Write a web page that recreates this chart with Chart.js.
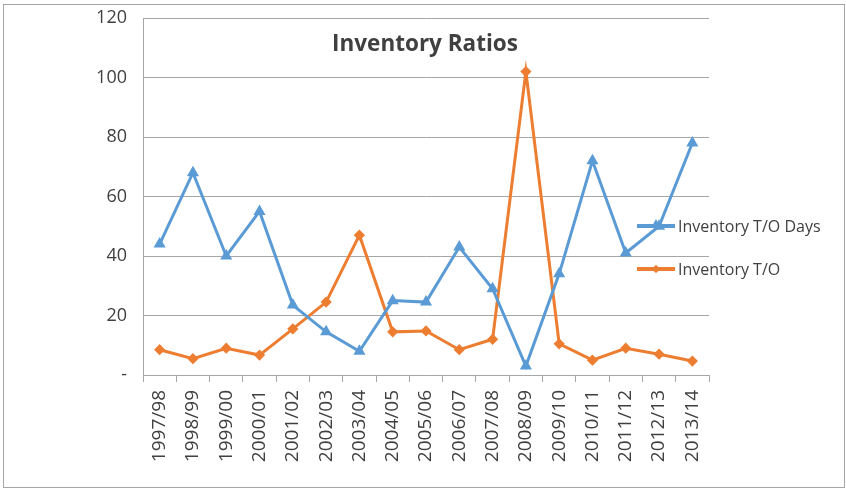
<!DOCTYPE html>
<html>
<head>
<meta charset="utf-8">
<script src="https://cdn.jsdelivr.net/npm/chart.js@4"></script>
<style>
  body { margin: 0; background: #fff; }
  #wrap { position: relative; width: 846px; height: 490px; }
  #frame { position: absolute; left: 3px; top: 4px; width: 840px; height: 482px; border: 1px solid #a6a6a6; pointer-events: none; }
  #title { position: absolute; left: 0; width: 850px; top: 27px; text-align: center;
           font: bold 22.5px "Open Sans", sans-serif; color: #404040; }
  .leg { position: absolute; left: 637px; height: 24px; font: 16px "Open Sans", sans-serif; color: #404040; white-space: nowrap; }
  .leg .ln { position: absolute; left: 0; top: 10px; width: 38px; height: 4px; }
  .leg .tx { position: absolute; left: 41px; top: 0; line-height: 24px; }
  .tri { position: absolute; left: 14px; top: 5px; width: 0; height: 0;
         border-left: 5px solid transparent; border-right: 5px solid transparent; border-bottom: 9px solid #5b9bd5; }
  .dia { position: absolute; left: 16px; top: 9px; width: 6px; height: 6px; background: #ed7d31; transform: rotate(45deg); }
</style>
</head>
<body>
<div id="wrap">
  <canvas id="inventoryChart" width="846" height="490"></canvas>
  <div id="title">Inventory Ratios</div>
  <div class="leg" style="top:214px"><div class="ln" style="background:#5b9bd5"></div><div class="tri"></div><div class="tx">Inventory T/O Days</div></div>
  <div class="leg" style="top:257px"><div class="ln" style="background:#ed7d31"></div><div class="dia"></div><div class="tx">Inventory T/O</div></div>
  <div id="frame"></div>
</div>
<script>
var years = ['1997/98', '1998/99', '1999/00', '2000/01', '2001/02', '2002/03', '2003/04', '2004/05', '2005/06',
             '2006/07', '2007/08', '2008/09', '2009/10', '2010/11', '2011/12', '2012/13', '2013/14'];
var toDays = [44, 68, 40, 55, 23.5, 14.5, 8, 25, 24.5, 43, 29, 3, 34, 72, 41, 50, 78];
var turnover = [8.5, 5.5, 9, 6.7, 15.5, 24.5, 47, 14.5, 14.8, 8.5, 12, 102, 10.5, 5, 9, 7, 4.7];
var yTicks = [0, 20, 40, 60, 80, 100, 120];

var ctx = document.getElementById('inventoryChart').getContext('2d');
var inventoryChart = new Chart(ctx, {
    type: 'line',
    data: {
        labels: years,
        datasets: [{
            label: 'Inventory T/O Days',
            data: toDays,
            borderColor: '#5b9bd5',
            backgroundColor: '#5b9bd5',
            borderWidth: 3,
            pointStyle: 'triangle',
            pointRadius: 4,
            tension: 0
        }, {
            label: 'Inventory T/O',
            data: turnover,
            borderColor: '#ed7d31',
            backgroundColor: '#ed7d31',
            borderWidth: 3,
            pointStyle: 'rectRot',
            pointRadius: 3.5,
            tension: 0
        }]
    },
    options: {
        responsive: false,
        animation: false,
        layout: { padding: { left: 0, top: 18, right: 137, bottom: 0 } },
        plugins: {
            legend: { display: false },
            title: { display: false },
            tooltip: { enabled: false }
        },
        scales: {
            x: {
                offset: true,
                grid: { drawOnChartArea: false, drawTicks: true, tickLength: 7, offset: true, color: '#a6a6a6' },
                border: { color: '#a6a6a6' },
                ticks: {
                    minRotation: 90, maxRotation: 90, padding: 8, autoSkip: false,
                    color: '#404040', font: { family: 'Open Sans', size: 19 }
                },
                afterFit: function(scale) { scale.height = 115; scale.paddingLeft = 0; scale.paddingRight = 0; }
            },
            y: {
                min: 0,
                max: 120,
                afterBuildTicks: function(scale) {
                    scale.ticks = yTicks.map(function(v) { return { value: v }; });
                },
                grid: { drawTicks: false, color: '#a6a6a6' },
                border: { color: '#a6a6a6' },
                ticks: {
                    padding: 16, color: '#404040', font: { family: 'Open Sans', size: 18 },
                    callback: function(v) { return v === 0 ? '-' : v; }
                },
                afterFit: function(scale) { scale.width = 143; scale.paddingTop = 0; scale.paddingBottom = 0; }
            }
        }
    }
});
</script>
</body>
</html>
